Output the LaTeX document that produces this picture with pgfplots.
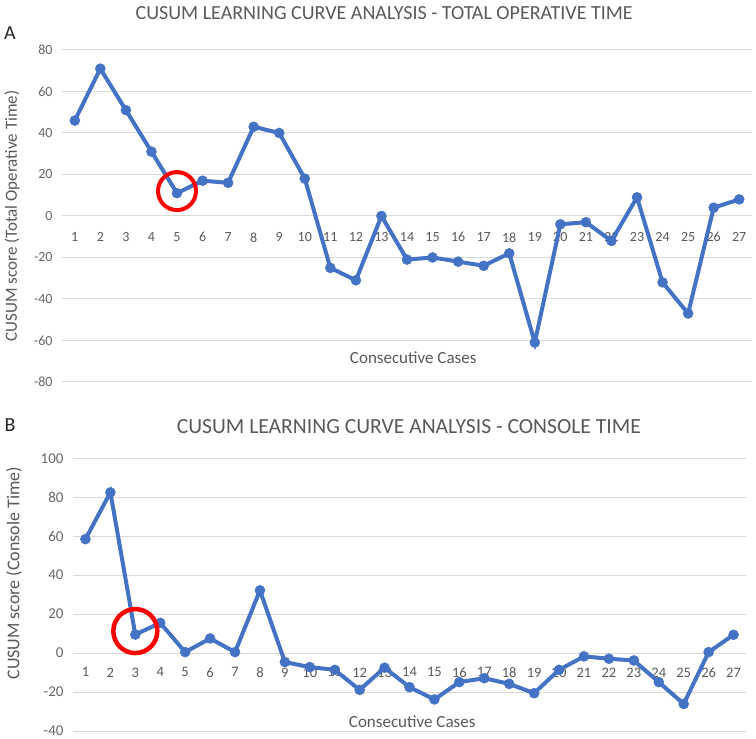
\documentclass[border=0pt]{standalone}
\usepackage{pgfplots}
\pgfplotsset{compat=1.18}
\usepackage{fontspec}
\setmainfont{Carlito}
\definecolor{xlblue}{HTML}{4472C4}
\definecolor{txtgray}{HTML}{595959}
\definecolor{tickgray}{HTML}{666666}
\definecolor{gridgray}{HTML}{D9D9D9}
\pgfplotstableread{
case score
1 46
2 71
3 51
4 31
5 11
6 17
7 16
8 43
9 40
10 18
11 -25
12 -31
13 0
14 -21
15 -20
16 -22
17 -24
18 -18
19 -61
20 -4
21 -3
22 -12
23 9
24 -32
25 -47
26 4
27 8
}\totaltable
\pgfplotstableread{
case score
1 58.5
2 82.5
3 9.5
4 15.5
5 0.5
6 7.5
7 0.5
8 32.2
9 -4.6
10 -7.2
11 -8.6
12 -18.9
13 -7.5
14 -17.5
15 -23.8
16 -14.9
17 -12.9
18 -15.8
19 -20.6
20 -8.6
21 -1.7
22 -2.9
23 -3.8
24 -14.9
25 -26.1
26 0.5
27 9.4
}\consoletable
\pgfplotsset{
  cusum/.style={
    scale only axis,
    anchor=south west,
    xmin=0.5, xmax=27.5,
    xtick={1,...,27},
    axis x line*=middle,
    axis y line*=left,
    axis line style={draw=none},
    major tick length=0pt,
    ymajorgrids,
    major grid style={draw=gridgray, line width=1bp},
    /pgf/number format/assume math mode=true,
    xticklabel style={font=\fontsize{14bp}{16bp}\selectfont, text=txtgray, yshift=-13bp},
    yticklabel style={font=\fontsize{14bp}{16bp}\selectfont, text=tickgray, xshift=-6bp},
    label style={font=\fontsize{17bp}{19bp}\selectfont, text=txtgray},
    title style={font=\fontsize{20bp}{22bp}\selectfont, text=txtgray, anchor=center},
    clip=false,
  },
  cusumline/.style={color=xlblue, line width=4bp, mark=*, mark size=5bp, mark options={fill=xlblue, draw=xlblue, line width=0.5bp}},
}
\begin{document}
\begin{tikzpicture}[x=1bp,y=1bp]
\useasboundingbox (0,0) rectangle (756,739);
\node[font=\fontsize{20bp}{22bp}\selectfont, text=black!85] at (10,706) {A};
\node[font=\fontsize{20bp}{22bp}\selectfont, text=black!85] at (10,314) {B};
\begin{axis}[cusum,
  at={(62bp,357bp)}, width=690bp, height=332bp,
  ymin=-80, ymax=80, ytick={-80,-60,...,80},
  title={CUSUM LEARNING CURVE ANALYSIS - TOTAL OPERATIVE TIME},
  title style={at={(axis description cs:0.467,1.092)}},
  xlabel={Consecutive Cases},
  xlabel style={at={(axis description cs:0.509,0.072)}, anchor=center},
  ylabel={CUSUM score (Total Operative Time)},
  ylabel style={at={(axis description cs:-0.0725,0.5)}, anchor=center},
]
\addplot[cusumline] table[x=case, y=score] {\totaltable};
\addplot[only marks, mark=o, mark size=19bp, red, line width=4bp] coordinates {(5,12)};
\end{axis}
\begin{axis}[cusum,
  at={(73bp,8bp)}, width=673bp, height=272.7bp,
  ymin=-40, ymax=100, ytick={-40,-20,...,100},
  xticklabel style={font=\fontsize{14.5bp}{16bp}\selectfont, yshift=2bp},
  yticklabel style={font=\fontsize{15bp}{17bp}\selectfont},
  title={CUSUM LEARNING CURVE ANALYSIS - CONSOLE TIME},
  title style={at={(axis description cs:0.499,1.096)}, font=\fontsize{21.6bp}{23bp}\selectfont},
  xlabel={Consecutive Cases},
  xlabel style={at={(axis description cs:0.504,0.033)}, anchor=center},
  ylabel={CUSUM score (Console Time)},
  ylabel style={at={(axis description cs:-0.0877,0.579)}, anchor=center, font=\fontsize{18bp}{20bp}\selectfont},
]
\addplot[cusumline] table[x=case, y=score] {\consoletable};
\addplot[only marks, mark=o, mark size=22bp, red, line width=4.5bp] coordinates {(3,11.3)};
\end{axis}
\end{tikzpicture}
\end{document}
